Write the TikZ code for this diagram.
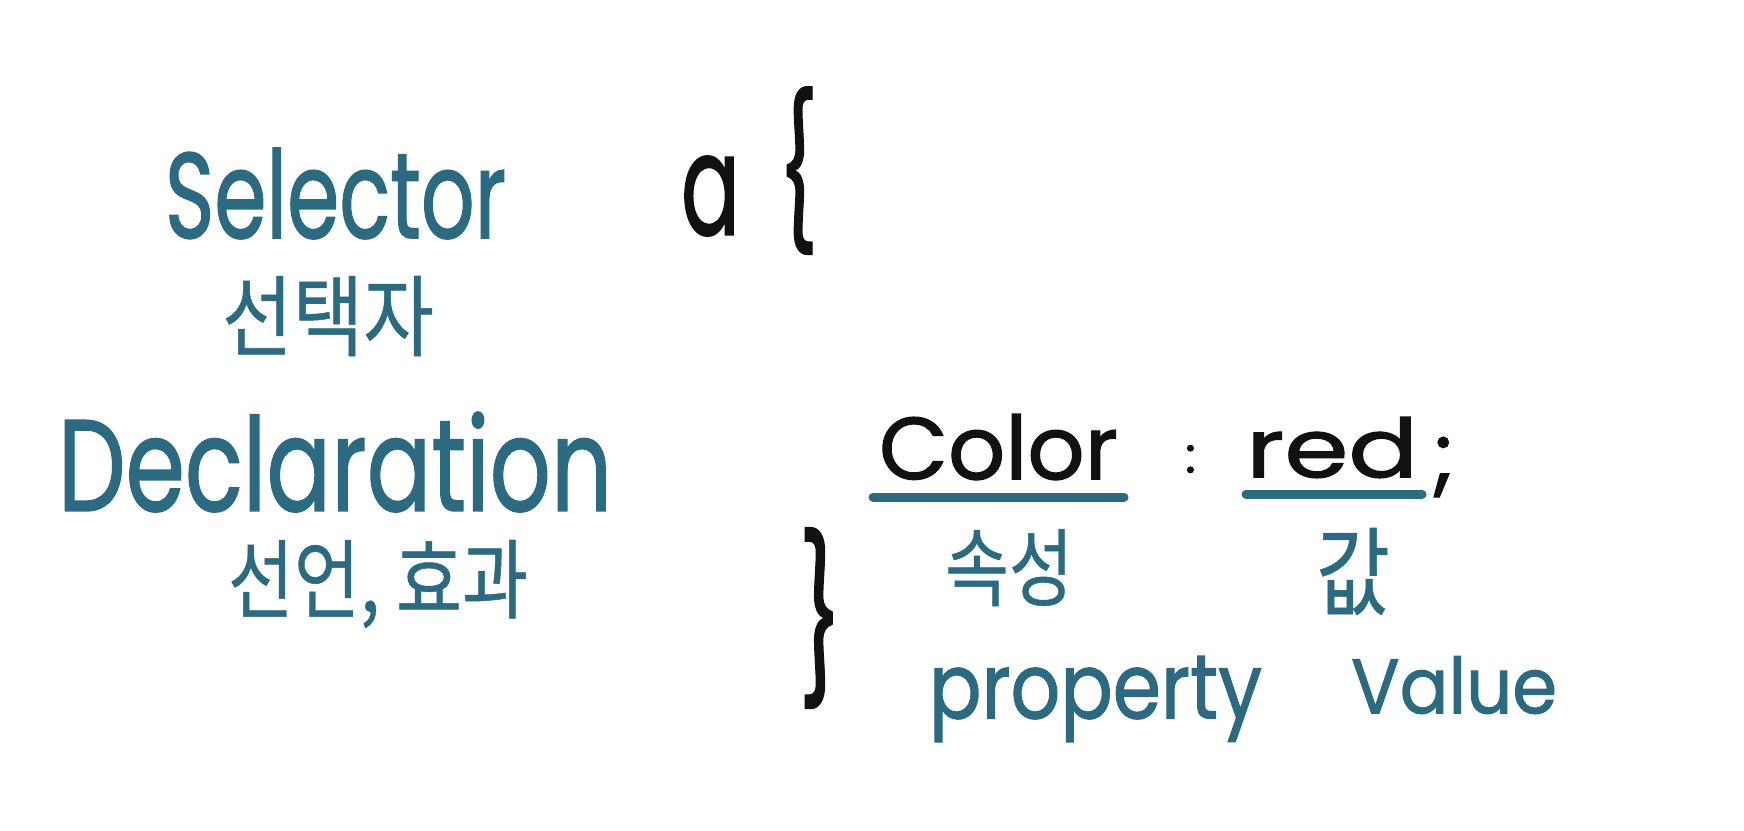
\documentclass[tikz,border=0pt]{standalone}
\usepackage{fontspec}
\setmainfont{Poppins}[FakeBold=1.3]
\newfontfamily\krfont{Noto Sans CJK KR}[FakeBold=0.6]
\definecolor{tealink}{HTML}{2B6A80}
\definecolor{blackink}{HTML}{111111}
\newcommand\fitbox[3]{\resizebox*{#1pt}{#2pt}{#3}}
\begin{document}
\begin{tikzpicture}[x=1pt,y=-1pt,
  word/.style={inner sep=0pt, outer sep=0pt, anchor=north west, text=tealink},
  ink/.style={word, text=blackink},
  uline/.style={draw=tealink, line width=9pt, line cap=round}]
\useasboundingbox (0,0) rectangle (1744,830);
% left labels
\node[word] (sel) at (165,148) {\fitbox{341}{91}{Selector}};
\node[word] (selkr) at (222,276) {\fitbox{212}{80}{\krfont 선택자}};
\node[word] (decl) at (58,412) {\fitbox{554}{100}{Declaration}};
\node[word] (declkr) at (228,540) {\fitbox{300}{88}{\krfont 선언, 효과}};
% code
\node[ink] (a) at (681,156) {\fitbox{59}{80}{a}};
\node[ink] (lbrace) at (778,87) {\fitbox{40}{167}{\{}};
\node[ink] (color) at (879,414) {\fitbox{239}{66}{Color}};
\node[ink] (colon) at (1185,445) {\fitbox{11}{28}{:}};
\node[ink] (red) at (1246,417) {\fitbox{172}{61}{red}};
\node[ink] (semi) at (1432,437) {\fitbox{23}{60}{;}};
\node[ink] (rbrace) at (799,528) {\fitbox{43}{180}{\}}};
% underlines
\coordinate (u1a) at (873,497); \coordinate (u1b) at (1124,497);
\coordinate (u2a) at (1246,494); \coordinate (u2b) at (1422,494);
\draw[uline] (u1a) -- (u1b);
\draw[uline] (u2a) -- (u2b);
% annotations
\node[word] (propkr) at (945,529) {\fitbox{128}{77}{\krfont 속성}};
\node[word] (valkr) at (1316,528) {\fitbox{74}{87}{\krfont 값}};
\node[word] (prop) at (929,656) {\fitbox{333}{86}{property}};
\node[word] (val) at (1351,656) {\fitbox{206}{58}{Value}};
\end{tikzpicture}
\end{document}
